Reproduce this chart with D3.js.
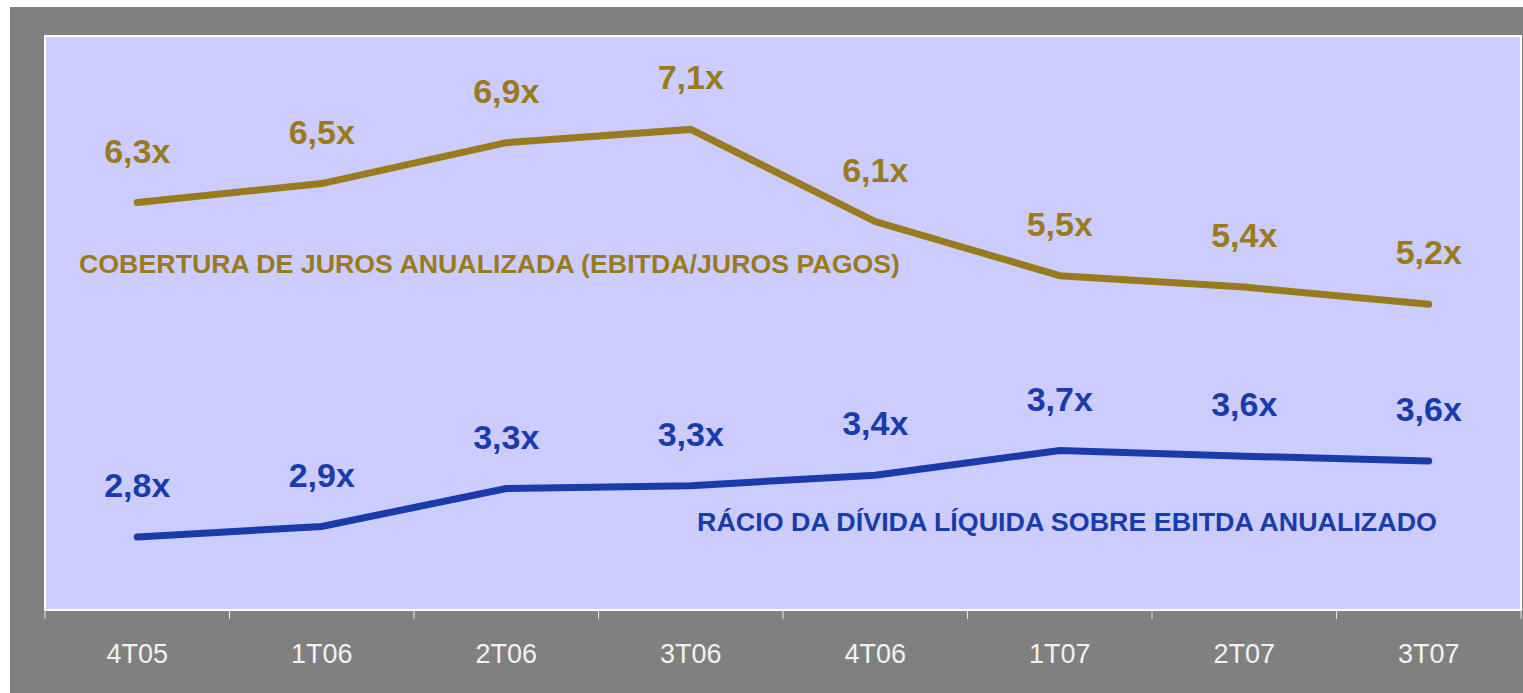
<!DOCTYPE html>
<html>
<head>
<meta charset="utf-8">
<script src="https://cdnjs.cloudflare.com/ajax/libs/d3/7.8.5/d3.min.js"></script>
<style>
  body { margin: 0; background: #fff; }
  svg text { font-family: Arial, "Liberation Sans", sans-serif; }
</style>
</head>
<body>
<div id="chart"></div>
<script>
// categories (quarters)
var quarters = ["4T05", "1T06", "2T06", "3T06", "4T06", "1T07", "2T07", "3T07"];

// interest coverage (EBITDA / juros pagos)
var cobertura = [6.31, 6.51, 6.94, 7.08, 6.11, 5.54, 5.42, 5.24];
var coberturaLabels = ["6,3x", "6,5x", "6,9x", "7,1x", "6,1x", "5,5x", "5,4x", "5,2x"];

// net debt / EBITDA
var racio = [2.79, 2.90, 3.30, 3.33, 3.44, 3.70, 3.64, 3.59];
var racioLabels = ["2,8x", "2,9x", "3,3x", "3,3x", "3,4x", "3,7x", "3,6x", "3,6x"];

var seriesNames = ["COBERTURA DE JUROS ANUALIZADA (EBITDA/JUROS PAGOS)",
                   "RÁCIO DA DÍVIDA LÍQUIDA SOBRE EBITDA ANUALIZADO"];

var W = 1523, H = 693;
var gold = "#9a7a1e", blue = "#1a3caa";

var svg = d3.select("#chart").append("svg")
    .attr("width", W)
    .attr("height", H);

// gray frame
svg.append("rect")
    .attr("x", 10).attr("y", 7)
    .attr("width", W - 10).attr("height", H - 7)
    .attr("fill", "#808080");

var plot = {left: 45, right: 1521, top: 36, bottom: 610};

svg.append("rect")
    .attr("x", plot.left).attr("y", plot.top)
    .attr("width", plot.right - plot.left)
    .attr("height", plot.bottom - plot.top)
    .attr("fill", "#ccccff")
    .attr("stroke", "#ffffff")
    .attr("stroke-width", 2);

var x = d3.scaleBand().domain(quarters).range([plot.left, plot.right]);
var y = d3.scaleLinear().domain([2, 8]).range([612, 42]);

// x axis
var xaxis = svg.append("g")
    .attr("transform", "translate(0," + plot.bottom + ")")
    .call(d3.axisBottom(x).tickSize(0).tickPadding(53));
xaxis.select(".domain").remove();
xaxis.selectAll("text")
    .attr("fill", "#f2f2f2")
    .style("font-size", "27px")
    .attr("dy", 0);

// tick marks on band boundaries
var bounds = quarters.map(function(q){ return x(q); }).concat([plot.right]);
svg.append("g").selectAll("line")
    .data(bounds)
    .enter().append("line")
    .attr("x1", function(d){ return d; })
    .attr("x2", function(d){ return d; })
    .attr("y1", plot.bottom)
    .attr("y2", plot.bottom + 9)
    .attr("stroke", "#e6e6e6")
    .attr("stroke-width", 1);

var line = d3.line()
    .x(function(d, i){ return x(quarters[i]) + x.bandwidth() / 2; })
    .y(function(d){ return y(d); });

function drawSeries(vals, labels, color){
  svg.append("path")
    .datum(vals)
    .attr("d", line)
    .attr("fill", "none")
    .attr("stroke", color)
    .attr("stroke-width", 7)
    .attr("stroke-linecap", "round")
    .attr("stroke-linejoin", "miter");

  svg.append("g").selectAll("text")
    .data(vals)
    .enter().append("text")
    .attr("x", function(d, i){ return x(quarters[i]) + x.bandwidth() / 2; })
    .attr("y", function(d){ return y(d) - 40; })
    .attr("text-anchor", "middle")
    .attr("fill", color)
    .style("font-size", "34px")
    .style("font-weight", "bold")
    .text(function(d, i){ return labels[i]; });
}

drawSeries(cobertura, coberturaLabels, gold);
drawSeries(racio, racioLabels, blue);

// series titles
svg.append("text")
    .attr("x", 79).attr("y", 273)
    .attr("fill", gold)
    .style("font-size", "26px")
    .style("font-weight", "bold")
    .attr("textLength", 821)
    .attr("lengthAdjust", "spacingAndGlyphs")
    .text(seriesNames[0]);

svg.append("text")
    .attr("x", 697).attr("y", 531)
    .attr("fill", blue)
    .style("font-size", "26px")
    .style("font-weight", "bold")
    .attr("textLength", 740)
    .attr("lengthAdjust", "spacingAndGlyphs")
    .text(seriesNames[1]);
</script>
</body>
</html>
